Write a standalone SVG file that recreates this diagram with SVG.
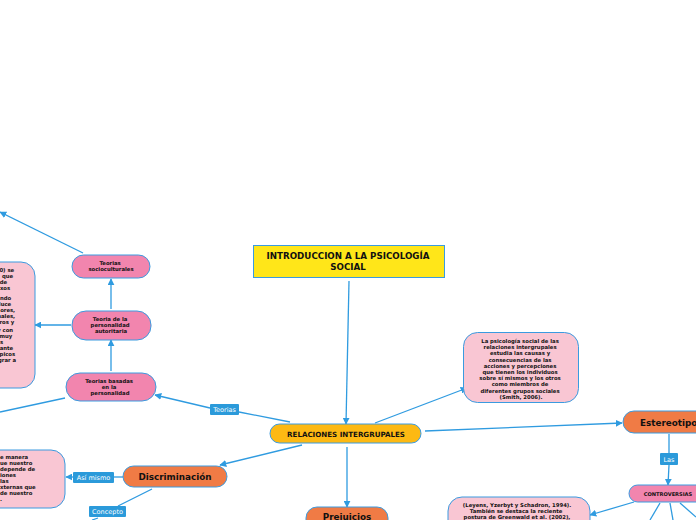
<svg xmlns="http://www.w3.org/2000/svg" width="696" height="520" viewBox="0 0 696 520">
<style>
.ln{stroke:#2f9be0;stroke-width:1.3;fill:none}
.bd{stroke:#3a9be0;stroke-width:1}
.pk{fill:#f9c6d3}
.mp{fill:#f285ae}
.or{fill:#f07b45}
.t{font-family:"DejaVu Sans",sans-serif;font-weight:bold;fill:#111;text-anchor:middle}
.s5{font-size:5.3px}
.s9{font-size:8.8px}
.lb{fill:#2b9ada}
.lt{font-family:"DejaVu Sans",sans-serif;font-size:6.5px;fill:#fff;text-anchor:middle}
</style>
<defs>
<marker id="ar" viewBox="0 0 10 10" refX="9" refY="5" markerWidth="7" markerHeight="7" markerUnits="userSpaceOnUse" orient="auto">
<path d="M0,0L10,5L0,10z" fill="#2f9be0"/>
</marker>
</defs>
<rect width="696" height="520" fill="#fff"/>
<g id="connectors">
<line class="ln" x1="349" y1="281" x2="346" y2="424" marker-end="url(#ar)"/>
<line class="ln" x1="375" y1="423" x2="467" y2="388" marker-end="url(#ar)"/>
<line class="ln" x1="425" y1="431" x2="622" y2="423" marker-end="url(#ar)"/>
<line class="ln" x1="669" y1="434" x2="669" y2="453"/>
<line class="ln" x1="669" y1="465" x2="668" y2="485" marker-end="url(#ar)"/>
<line class="ln" x1="634" y1="502" x2="590" y2="515" marker-end="url(#ar)"/>
<line class="ln" x1="660" y1="503" x2="650" y2="520"/>
<line class="ln" x1="670" y1="503" x2="673" y2="520"/>
<line class="ln" x1="680" y1="503" x2="696" y2="517"/>
<line class="ln" x1="347" y1="447" x2="347" y2="507" marker-end="url(#ar)"/>
<line class="ln" x1="302" y1="445" x2="220" y2="465" marker-end="url(#ar)"/>
<line class="ln" x1="123" y1="477" x2="114" y2="477"/>
<line class="ln" x1="73" y1="477" x2="66" y2="477" marker-end="url(#ar)"/>
<line class="ln" x1="152" y1="489" x2="118" y2="506"/>
<line class="ln" x1="98" y1="518" x2="92" y2="520"/>
<line class="ln" x1="290" y1="422" x2="239" y2="412"/>
<line class="ln" x1="210" y1="408" x2="155" y2="395" marker-end="url(#ar)"/>
<line class="ln" x1="65" y1="398" x2="0" y2="412"/>
<line class="ln" x1="111" y1="371" x2="111" y2="340" marker-end="url(#ar)"/>
<line class="ln" x1="71" y1="325" x2="35" y2="325" marker-end="url(#ar)"/>
<line class="ln" x1="111" y1="309" x2="111" y2="279" marker-end="url(#ar)"/>
<line class="ln" x1="83" y1="253" x2="0" y2="212" marker-end="url(#ar)"/>
</g>
<g id="title">
<rect x="253.5" y="245.5" width="191" height="32" fill="#ffe619" class="bd"/>
<text class="t" font-size="8.7" x="348" y="259">INTRODUCCION A LA PSICOLOGÍA</text>
<text class="t" font-size="8.7" x="348" y="270">SOCIAL</text>
</g>
<g id="relaciones">
<rect x="270" y="424" width="151" height="19" rx="9.5" fill="#fdb913" class="bd"/>
<text class="t" font-size="7.1" x="346" y="436.5">RELACIONES INTERGRUPALES</text>
</g>
<g id="definicion">
<rect x="463.5" y="332.5" width="115" height="70" rx="14" class="pk bd"/>
<text class="t s5">
<tspan x="521" y="343">La psicología social de las</tspan>
<tspan x="521" y="349.2">relaciones intergrupales</tspan>
<tspan x="521" y="355.4">estudia las causas y</tspan>
<tspan x="521" y="361.6">consecuencias de las</tspan>
<tspan x="521" y="367.8">acciones y percepciones</tspan>
<tspan x="521" y="374">que tienen los individuos</tspan>
<tspan x="521" y="380.2">sobre sí mismos y los otros</tspan>
<tspan x="521" y="386.4">como miembros de</tspan>
<tspan x="521" y="392.6">diferentes grupos sociales</tspan>
<tspan x="521" y="398.8">(Smith, 2006).</tspan>
</text>
</g>
<g id="estereotipos">
<rect x="623" y="411" width="90" height="22" rx="11" class="or bd"/>
<text class="t s9" x="640" y="426" style="text-anchor:start">Estereotipos</text>
</g>
<g id="lab-las">
<rect x="660" y="453" width="18" height="12" rx="1" class="lb"/>
<text class="lt" x="669" y="461.5">Las</text>
</g>
<g id="controversias">
<rect x="629" y="485" width="80" height="17" rx="8.5" class="mp bd"/>
<text class="t" font-size="5.1" x="668" y="495.5">CONTROVERSIAS</text>
</g>
<g id="leyens">
<rect x="448" y="497" width="142" height="40" rx="14" class="pk bd"/>
<text class="t s5">
<tspan x="518" y="507">(Leyens, Yzerbyt y Schadron, 1994).</tspan>
<tspan x="517" y="513">También se destaca la reciente</tspan>
<tspan x="517" y="519">postura de Greenwald et al. (2002),</tspan>
</text>
</g>
<g id="prejuicios">
<rect x="306" y="507" width="82" height="24" rx="11" class="or bd"/>
<text class="t s9" x="347" y="520">Prejuicios</text>
</g>
<g id="discriminacion">
<rect x="123" y="466" width="104" height="21" rx="10.5" class="or bd"/>
<text class="t s9" x="175" y="480">Discriminación</text>
</g>
<g id="lab-asi">
<rect x="73" y="472" width="41" height="11" rx="1" class="lb"/>
<text class="lt" x="93.5" y="480">Así mismo</text>
</g>
<g id="disc-texto">
<rect x="-20" y="450" width="85" height="58" rx="14" class="pk bd"/>
<text class="t s5" style="text-anchor:start">
<tspan x="0" y="459">e manera</tspan>
<tspan x="0" y="465">ue nuestro</tspan>
<tspan x="0" y="471">depende de</tspan>
<tspan x="0" y="477">iones</tspan>
<tspan x="0" y="483">las</tspan>
<tspan x="0" y="489">xternas que</tspan>
<tspan x="0" y="495">de nuestro</tspan>
<tspan x="0" y="501">.</tspan>
</text>
</g>
<g id="lab-concepto">
<rect x="89" y="506" width="37" height="11" rx="1" class="lb"/>
<text class="lt" x="107.5" y="514">Concepto</text>
</g>
<g id="lab-teorias">
<rect x="210" y="404" width="29" height="11" rx="1" class="lb"/>
<text class="lt" x="224.5" y="412">Teorias</text>
</g>
<g id="teorias-personalidad">
<rect x="66" y="373" width="90" height="28" rx="14" class="mp bd"/>
<text class="t s5">
<tspan x="110" y="383">Teorias basadas</tspan>
<tspan x="110" y="389">en la</tspan>
<tspan x="110" y="395">personalidad</tspan>
</text>
</g>
<g id="personalidad-autoritaria">
<rect x="72" y="311" width="79" height="29" rx="14" class="mp bd"/>
<text class="t s5">
<tspan x="111" y="320.5">Teoria de la</tspan>
<tspan x="111" y="326.5">personalidad</tspan>
<tspan x="111" y="332.5">autoritaria</tspan>
</text>
</g>
<g id="autoritaria-texto">
<rect x="-20" y="262" width="55" height="126" rx="14" class="pk bd"/>
<text class="t s5" style="text-anchor:end">
<tspan x="16" y="272">50) se</tspan>
<tspan x="15" y="278">que</tspan>
<tspan x="9" y="284">de</tspan>
<tspan x="12" y="290">xos</tspan>
<tspan x="13" y="300">ando</tspan>
<tspan x="13" y="306">luce</tspan>
<tspan x="17" y="312">ores,</tspan>
<tspan x="17" y="318">nales,</tspan>
<tspan x="16" y="324">ros y</tspan>
<tspan x="15" y="332">y con</tspan>
<tspan x="14" y="338">muy</tspan>
<tspan x="5" y="344">s</tspan>
<tspan x="15" y="350">jante</tspan>
<tspan x="17" y="356">ípicos</tspan>
<tspan x="16" y="362">grar a</tspan>
</text>
</g>
<g id="socioculturales">
<rect x="72" y="255" width="78" height="23" rx="11.5" class="mp bd"/>
<text class="t s5">
<tspan x="111" y="264.5">Teorias</tspan>
<tspan x="111" y="270.5">socioculturales</tspan>
</text>
</g>
</svg>
